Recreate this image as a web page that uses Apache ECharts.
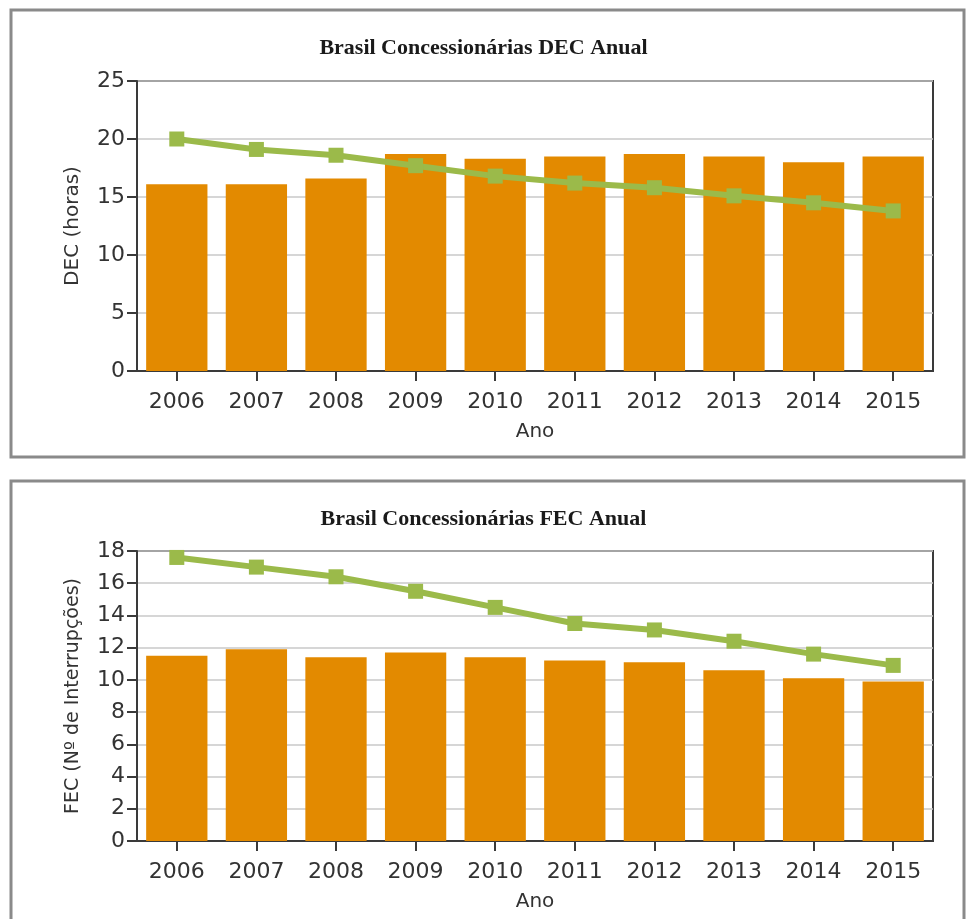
<!DOCTYPE html>
<html>
<head>
<meta charset="utf-8">
<script src="https://cdn.jsdelivr.net/npm/echarts@6/dist/echarts.min.js"></script>
<style>
html,body{margin:0;padding:0;background:#fff;}
#chart{width:967px;height:919px;}
</style>
</head>
<body>
<div id="chart"></div>
<script>
const years = ['2006','2007','2008','2009','2010','2011','2012','2013','2014','2015'];
const decBars = [16.1, 16.1, 16.6, 18.7, 18.3, 18.5, 18.7, 18.5, 18.0, 18.5];
const decLine = [20.0, 19.1, 18.6, 17.7, 16.8, 16.2, 15.8, 15.1, 14.5, 13.8];
const fecBars = [11.5, 11.9, 11.4, 11.7, 11.4, 11.2, 11.1, 10.6, 10.1, 9.9];
const fecLine = [17.6, 17.0, 16.4, 15.5, 14.5, 13.5, 13.1, 12.4, 11.6, 10.9];
const decTitle = 'Brasil Concessionárias DEC Anual';
const fecTitle = 'Brasil Concessionárias FEC Anual';
const decAxisName = 'DEC (horas)';
const fecAxisName = 'FEC (Nº de Interrupções)';
const xName = 'Ano';

const BAR = '#e38a00';
const GREEN = '#9bba4a';
const AXIS = '#3a3a3a';
const FONT = 'DejaVu Sans';

function xAxisCfg(gi){
  return {
    type:'category', gridIndex:gi, data:years,
    name:xName, nameLocation:'middle', nameGap:51,
    nameTextStyle:{fontFamily:FONT, fontSize:20, color:'#333'},
    axisLine:{show:true, lineStyle:{color:AXIS, width:2}},
    axisTick:{show:true, alignWithLabel:true, length:10, lineStyle:{color:AXIS, width:2}},
    axisLabel:{fontFamily:FONT, fontSize:22, color:'#333', margin:20},
    splitLine:{show:false}
  };
}
function yAxisCfg(gi, max, interval, name, nameSize){
  return {
    type:'value', gridIndex:gi, min:0, max:max, interval:interval,
    name:name, nameLocation:'middle', nameGap:54,
    nameTextStyle:{fontFamily:FONT, fontSize:nameSize, color:'#333'},
    axisLine:{show:true, lineStyle:{color:AXIS, width:2}},
    axisTick:{show:true, length:10, lineStyle:{color:AXIS, width:2}},
    axisLabel:{fontFamily:FONT, fontSize:22, color:'#333', margin:12},
    splitLine:{show:true, lineStyle:{color:'#c8c8c8', width:1.5}}
  };
}
function barSeries(gi, data){
  return {type:'bar', xAxisIndex:gi, yAxisIndex:gi, data:data,
    barCategoryGap:'23%', itemStyle:{color:BAR}, silent:true, z:2};
}
function lineSeries(gi, data){
  return {type:'line', xAxisIndex:gi, yAxisIndex:gi, data:data,
    symbol:'rect', symbolSize:15, showSymbol:true,
    lineStyle:{color:GREEN, width:6}, itemStyle:{color:GREEN, borderWidth:0},
    silent:true, z:3};
}

const chart = echarts.init(document.getElementById('chart'), null, {renderer:'canvas'});
chart.setOption({
  animation:false,
  backgroundColor:'#fff',
  title:[
    {text:decTitle, left:'center', top:32,
     textStyle:{fontFamily:'Liberation Serif', fontWeight:'bold', fontSize:22, color:'#1a1a1a'}},
    {text:fecTitle, left:'center', top:503,
     textStyle:{fontFamily:'Liberation Serif', fontWeight:'bold', fontSize:22, color:'#1a1a1a'}}
  ],
  graphic:[
    {type:'rect', shape:{x:11, y:10, width:953, height:447}, style:{fill:null, stroke:'#8a8a8a', lineWidth:3}, silent:true},
    {type:'rect', shape:{x:11, y:481, width:953, height:460}, style:{fill:null, stroke:'#8a8a8a', lineWidth:3}, silent:true}
  ],
  grid:[
    {left:137, top:81, width:796, height:290, show:true, borderColor:AXIS, borderWidth:2, backgroundColor:'transparent'},
    {left:137, top:551, width:796, height:290, show:true, borderColor:AXIS, borderWidth:2, backgroundColor:'transparent'}
  ],
  xAxis:[xAxisCfg(0), xAxisCfg(1)],
  yAxis:[yAxisCfg(0, 25, 5, decAxisName, 20), yAxisCfg(1, 18, 2, fecAxisName, 19)],
  series:[
    barSeries(0, decBars), lineSeries(0, decLine),
    barSeries(1, fecBars), lineSeries(1, fecLine)
  ]
});
</script>
</body>
</html>
